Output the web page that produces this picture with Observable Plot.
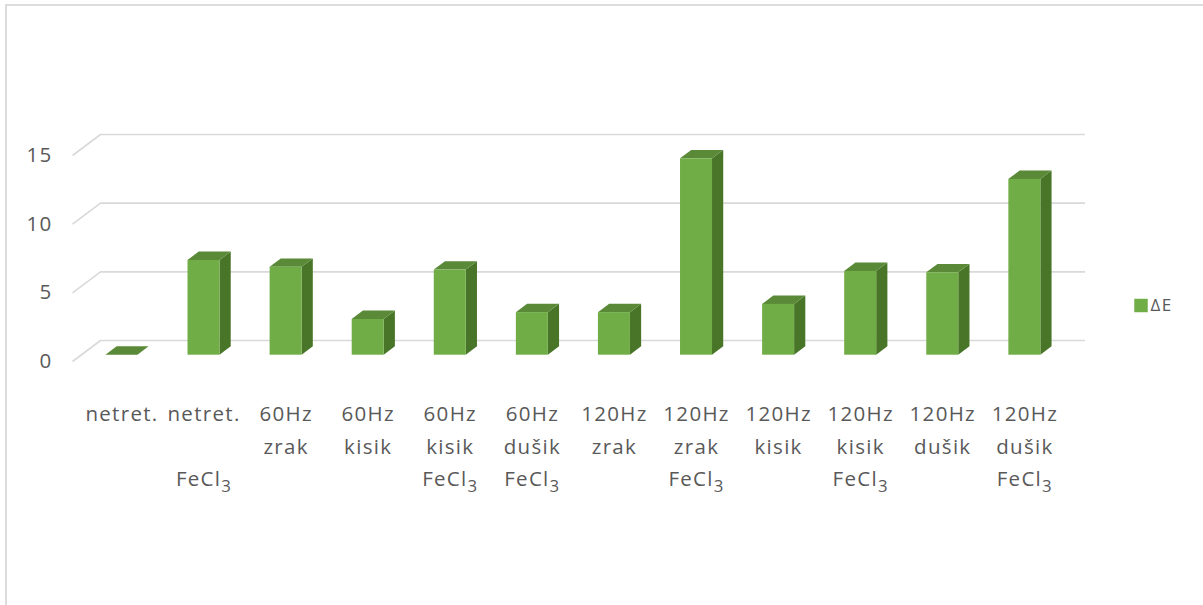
<!DOCTYPE html>
<html><head><meta charset="utf-8">
<script src="https://cdn.jsdelivr.net/npm/d3@7"></script>
<script src="https://cdn.jsdelivr.net/npm/@observablehq/plot@0.6"></script>
<style>
body{margin:0;background:#fff;}
#wrap{position:relative;width:1203px;height:605px;overflow:hidden;}
#border{position:absolute;left:5px;top:4px;right:0;bottom:0;border-left:2px solid #dcdcdc;border-top:2px solid #dcdcdc;pointer-events:none;}
#wrap svg text{letter-spacing:1.3px;}
</style></head><body><div id="wrap"></div>
<script>
// ---- data ----
const categories = ["netret.", "netret.\n\u00a0\nFeCl₃", "60Hz\nzrak", "60Hz\nkisik", "60Hz\nkisik\nFeCl₃", "60Hz\ndušik\nFeCl₃", "120Hz\nzrak", "120Hz\nzrak\nFeCl₃", "120Hz\nkisik", "120Hz\nkisik\nFeCl₃", "120Hz\ndušik", "120Hz\ndušik\nFeCl₃"];
const deltaE = [0, 6.9, 6.4, 2.6, 6.2, 3.1, 3.1, 14.3, 3.7, 6.1, 6.0, 12.8];
const yTicks = [0, 5, 10, 15];
const seriesName = "ΔE";

// ---- layout / style ----
const W = 1203, H = 605, ML = 100, MR = 118, MT = 134, MB = 265;
const n = categories.length, yMax = 15;
const kx = n / (W - ML - MR), ky = yMax / (H - MT - MB);
const depth = {dx: -28, dy: 21};       // back plane -> front plane, px
const fFront = 0.7, fBack = 0.3;       // bar depth range
const barHalf = 16;                    // px
const colFront = "#70ad47", colSide = "#487528", colTop = "#5a8a37";
const grid = "#d9d9d9", textCol = "#595959";
const font = "'Open Sans', sans-serif", fs = 20.5;

const ux = px => px * kx, uy = px => -px * ky;
const data = categories.map((c, i) => ({i, c, v: deltaE[i]}));

const sideData = data.flatMap(d => [fFront, fBack].map(f => ({
  i: d.i,
  x: d.i + 0.5 + ux(barHalf) + ux(f * depth.dx),
  y1: uy(f * depth.dy),
  y2: d.v + uy(f * depth.dy)
})));
const topData = data.flatMap(d => [fFront, fBack].map(f => ({
  i: d.i,
  y: d.v + uy(f * depth.dy),
  x1: d.i + 0.5 - ux(barHalf) + ux(f * depth.dx),
  x2: d.i + 0.5 + ux(barHalf) + ux(f * depth.dx)
})));

const svg = Plot.plot({
  width: W, height: H,
  marginLeft: ML, marginRight: MR, marginTop: MT, marginBottom: MB,
  x: {domain: [0, n], axis: null},
  y: {domain: [0, yMax], axis: null},
  style: {fontFamily: font, fontSize: fs + "px", background: "transparent"},
  marks: [
    Plot.ruleY(yTicks, {stroke: grid, strokeWidth: 1.6}),
    Plot.link(yTicks, {x1: () => 0, y1: d => d, x2: () => ux(depth.dx), y2: d => d + uy(depth.dy), stroke: grid, strokeWidth: 1.6}),
    Plot.text(yTicks, {x: () => ux(depth.dx), y: d => d + uy(depth.dy), text: d => String(d), dx: -20, textAnchor: "end", fill: textCol, fontSize: fs}),
    Plot.areaY(sideData, {x: "x", y1: "y1", y2: "y2", z: "i", fill: colSide}),
    Plot.areaX(topData, {y: "y", x1: "x1", x2: "x2", z: "i", fill: colTop}),
    Plot.rect(data, {x1: d => d.i + 0.5 - ux(barHalf), x2: d => d.i + 0.5 + ux(barHalf), y1: () => 0, y2: "v",
      dx: fFront * depth.dx, dy: fFront * depth.dy, fill: colFront}),
    Plot.text(data, {x: d => d.i + 0.5, y: () => 0, text: "c", dx: fFront * depth.dx, dy: 57,
      lineAnchor: "top", lineHeight: 1.6, fill: textCol, fontSize: fs}),
    Plot.dot([seriesName], {frameAnchor: "right", dx: 55.5, dy: 68, symbol: "square", r: 7.6, fill: colFront}),
    Plot.text([seriesName], {frameAnchor: "right", dx: 65, dy: 68, textAnchor: "start", fill: textCol, fontSize: 17})
  ]
});

// render the chemical subscript as a real lowered "3"
svg.querySelectorAll("text, tspan").forEach(el => {
  for (const node of Array.from(el.childNodes)) {
    if (node.nodeType === 3 && node.nodeValue.includes("₃")) {
      node.nodeValue = node.nodeValue.replace("₃", "");
      const sub = document.createElementNS("http://www.w3.org/2000/svg", "tspan");
      sub.setAttribute("font-size", "0.82em");
      sub.setAttribute("dy", "6");
      sub.textContent = "3";
      el.insertBefore(sub, node.nextSibling);
    }
  }
});

const wrap = document.getElementById("wrap");
wrap.appendChild(svg);
const border = document.createElement("div");
border.id = "border";
wrap.appendChild(border);
</script>
</body></html>
